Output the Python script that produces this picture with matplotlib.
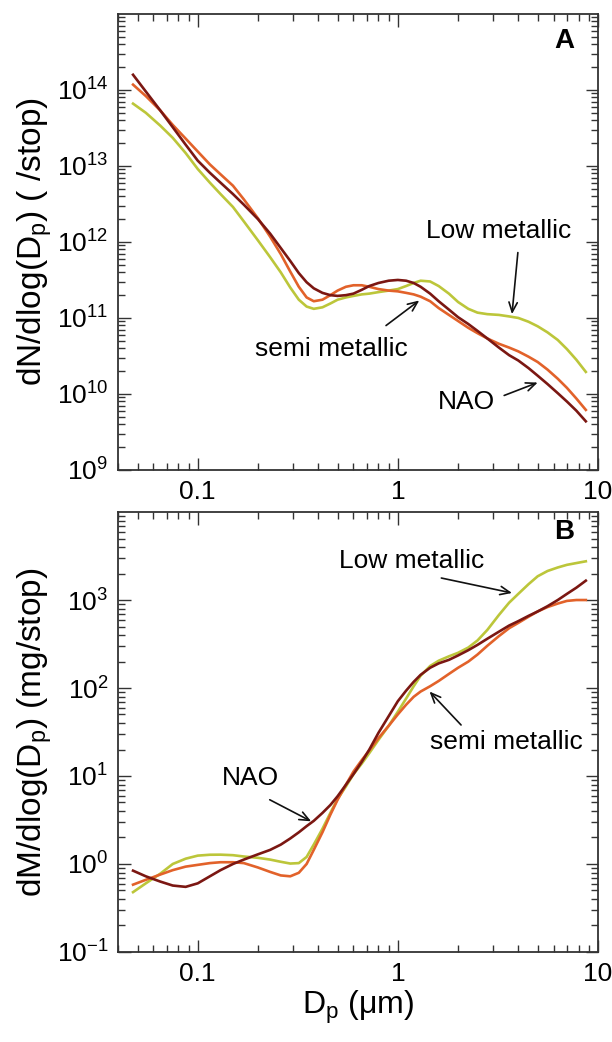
import matplotlib
matplotlib.use("Agg")
import matplotlib.pyplot as plt
import numpy as np
from matplotlib.ticker import LogLocator, NullFormatter, FixedLocator, FixedFormatter

plt.rcParams["font.family"] = ["Liberation Sans", "DejaVu Sans"]
plt.rcParams["mathtext.fontset"] = "custom"
plt.rcParams["mathtext.rm"] = "Liberation Sans"
plt.rcParams["mathtext.it"] = "Liberation Sans:italic"
plt.rcParams["mathtext.bf"] = "Liberation Sans:bold"

# particle diameter (um)
dp = [0.0475, 0.055, 0.065, 0.075, 0.087, 0.1, 0.115, 0.13, 0.15, 0.17,
      0.2, 0.23, 0.26, 0.29, 0.32, 0.35, 0.38, 0.42, 0.46, 0.5, 0.55, 0.6,
      0.66, 0.72, 0.8, 0.9, 1.0, 1.1, 1.2, 1.3, 1.45, 1.6, 1.8, 2.0, 2.25,
      2.5, 2.8, 3.2, 3.6, 4.0, 4.5, 5.0, 5.6, 6.3, 7.0, 7.8, 8.7]

# number distribution, log10(dN/dlogDp) per stop
num_nao = [14.20, 13.98, 13.73, 13.51, 13.28, 13.07, 12.91, 12.78, 12.63,
           12.49, 12.30, 12.11, 11.92, 11.75, 11.59, 11.47, 11.39, 11.33,
           11.30, 11.29, 11.30, 11.32, 11.37, 11.42, 11.46, 11.49, 11.50,
           11.49, 11.46, 11.41, 11.32, 11.22, 11.11, 11.01, 10.92, 10.83,
           10.73, 10.61, 10.51, 10.44, 10.34, 10.24, 10.13, 10.01, 9.90,
           9.78, 9.64]
num_semi = [14.07, 13.92, 13.73, 13.54, 13.36, 13.19, 13.02, 12.89, 12.74,
            12.56, 12.31, 12.07, 11.84, 11.61, 11.41, 11.27, 11.22, 11.24,
            11.30, 11.36, 11.41, 11.43, 11.43, 11.41, 11.38, 11.36, 11.35,
            11.33, 11.31, 11.28, 11.22, 11.13, 11.04, 10.96, 10.87, 10.80,
            10.73, 10.66, 10.61, 10.56, 10.49, 10.42, 10.32, 10.20, 10.08,
            9.94, 9.79]
num_low = [13.82, 13.70, 13.53, 13.37, 13.17, 12.96, 12.78, 12.63, 12.46,
           12.27, 12.02, 11.80, 11.60, 11.40, 11.24, 11.15, 11.12, 11.14,
           11.19, 11.24, 11.27, 11.29, 11.31, 11.32, 11.34, 11.36, 11.38,
           11.42, 11.46, 11.49, 11.48, 11.42, 11.32, 11.21, 11.12, 11.07,
           11.05, 11.04, 11.02, 11.00, 10.95, 10.89, 10.81, 10.71, 10.59,
           10.45, 10.29]

# mass distribution, log10(dM/dlogDp) in mg per stop
mass_nao = [-0.076, -0.14, -0.20, -0.245, -0.26, -0.22, -0.14, -0.07, 0.00,
            0.05, 0.11, 0.16, 0.22, 0.29, 0.36, 0.43, 0.49, 0.58, 0.67, 0.77,
            0.90, 1.02, 1.16, 1.30, 1.49, 1.68, 1.85, 1.97, 2.07, 2.15, 2.23,
            2.28, 2.32, 2.37, 2.43, 2.49, 2.56, 2.64, 2.71, 2.76, 2.82, 2.87,
            2.93, 3.00, 3.07, 3.14, 3.22]
mass_semi = [-0.235, -0.18, -0.12, -0.07, -0.03, -0.01, 0.01, 0.02, 0.02,
             0.01, -0.04, -0.09, -0.13, -0.14, -0.10, 0.00, 0.16, 0.36, 0.56,
             0.73, 0.90, 1.05, 1.18, 1.29, 1.43, 1.57, 1.70, 1.81, 1.90, 1.96,
             2.02, 2.08, 2.16, 2.23, 2.30, 2.38, 2.48, 2.59, 2.68, 2.74, 2.81,
             2.87, 2.92, 2.96, 2.99, 3.00, 3.00]
mass_low = [-0.32, -0.22, -0.11, 0.00, 0.06, 0.095, 0.105, 0.106, 0.10,
            0.085, 0.07, 0.05, 0.025, 0.005, 0.01, 0.08, 0.22, 0.40, 0.58,
            0.74, 0.88, 1.02, 1.14, 1.26, 1.41, 1.57, 1.73, 1.88, 2.02, 2.14,
            2.25, 2.31, 2.36, 2.40, 2.46, 2.54, 2.66, 2.83, 2.97, 3.07, 3.18,
            3.27, 3.33, 3.37, 3.40, 3.42, 3.44]

c_nao = "#7b1712"
c_semi = "#e2622a"
c_low = "#bcc63a"

fig = plt.figure(figsize=(6.12, 10.42), dpi=100)
axA = fig.add_axes([0.193, 0.549, 0.784, 0.4376])
axB = fig.add_axes([0.193, 0.0864, 0.784, 0.4222])

arrow = dict(arrowstyle="->,head_length=0.7,head_width=0.3", color="#111111",
             lw=1.2, shrinkA=0, shrinkB=0)


def style_axes(ax, ymin, ymax, ylabels):
    ax.set_xscale("log")
    ax.set_yscale("log")
    ax.set_xlim(0.04, 10)
    ax.set_ylim(ymin, ymax)
    ax.xaxis.set_major_locator(FixedLocator([0.1, 1, 10]))
    ax.xaxis.set_major_formatter(FixedFormatter(["0.1", "1", "10"]))
    ax.xaxis.set_minor_locator(LogLocator(base=10, subs=np.arange(2, 10), numticks=20))
    ax.xaxis.set_minor_formatter(NullFormatter())
    ax.yaxis.set_major_locator(FixedLocator(ylabels))
    ax.yaxis.set_major_formatter(FixedFormatter(
        [r"$\mathregular{10^{%d}}$" % int(np.log10(v)) for v in ylabels]))
    ax.yaxis.set_minor_locator(LogLocator(base=10, subs=np.arange(2, 10), numticks=20))
    ax.yaxis.set_minor_formatter(NullFormatter())
    ax.tick_params(which="both", direction="in", top=True, right=True,
                   color="#333333", labelsize=19, width=1.0)
    ax.tick_params(which="major", length=9, pad=7)
    ax.tick_params(which="minor", length=5)
    for s in ax.spines.values():
        s.set_color("#333333")
        s.set_linewidth(1.3)


# panel A: number size distribution
axA.plot(dp, 10.0 ** np.array(num_low), color=c_low, lw=1.9)
axA.plot(dp, 10.0 ** np.array(num_semi), color=c_semi, lw=1.9)
axA.plot(dp, 10.0 ** np.array(num_nao), color=c_nao, lw=1.9)
style_axes(axA, 1e9, 1e15, [1e9, 1e10, 1e11, 1e12, 1e13, 1e14])
axA.set_ylabel(r"dN/dlog(D$_\mathregular{p}$) ( /stop)", fontsize=24, labelpad=2)
axA.text(0.93, 0.94, "A", transform=axA.transAxes, fontsize=20,
         fontweight="bold", ha="center", va="center")
axA.annotate("", xy=(3.72, 10 ** 11.05), xytext=(3.98, 10 ** 11.86), arrowprops=arrow)
axA.text(3.18, 10 ** 12.15, "Low metallic", fontsize=19, ha="center", va="center")
axA.annotate("", xy=(1.28, 10 ** 11.23), xytext=(0.873, 10 ** 10.90), arrowprops=arrow)
axA.text(0.463, 10 ** 10.59, "semi metallic", fontsize=19, ha="center", va="center")
axA.annotate("", xy=(5.0, 10 ** 10.15), xytext=(3.40, 10 ** 9.98), arrowprops=arrow)
axA.text(2.21, 10 ** 9.89, "NAO", fontsize=19, ha="center", va="center")

# panel B: mass size distribution
axB.plot(dp, 10.0 ** np.array(mass_low), color=c_low, lw=1.9)
axB.plot(dp, 10.0 ** np.array(mass_semi), color=c_semi, lw=1.9)
axB.plot(dp, 10.0 ** np.array(mass_nao), color=c_nao, lw=1.9)
style_axes(axB, 0.1, 1e4, [0.1, 1, 10, 100, 1000])
axB.set_ylabel(r"dM/dlog(D$_\mathregular{p}$) (mg/stop)", fontsize=24, labelpad=2)
axB.set_xlabel(r"D$_\mathregular{p}$ ($\mathregular{\mu}$m)", fontsize=23, labelpad=2)
axB.text(0.93, 0.955, "B", transform=axB.transAxes, fontsize=20,
         fontweight="bold", ha="center", va="center")
axB.annotate("", xy=(3.72, 10 ** 3.08), xytext=(1.65, 10 ** 3.25), arrowprops=arrow)
axB.text(1.17, 10 ** 3.44, "Low metallic", fontsize=19, ha="center", va="center")
axB.annotate("", xy=(1.44, 10 ** 1.96), xytext=(2.07, 10 ** 1.58), arrowprops=arrow)
axB.text(3.48, 10 ** 1.39, "semi metallic", fontsize=19, ha="center", va="center")
axB.annotate("", xy=(0.369, 10 ** 0.485), xytext=(0.229, 10 ** 0.73), arrowprops=arrow)
axB.text(0.183, 10 ** 0.98, "NAO", fontsize=19, ha="center", va="center")

fig.savefig("out.png", dpi=100)
